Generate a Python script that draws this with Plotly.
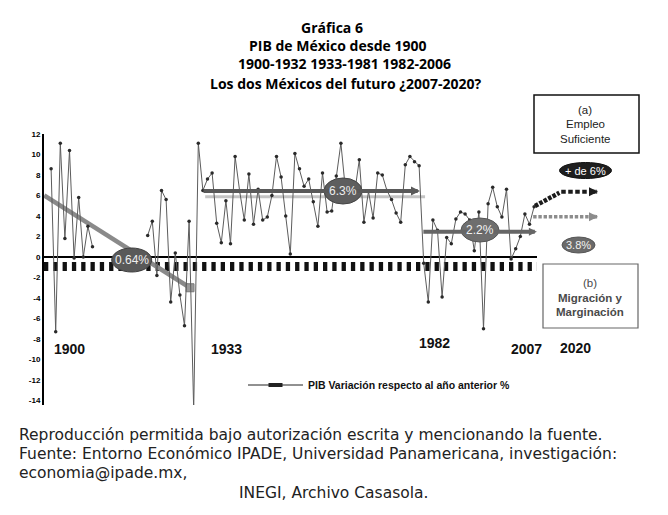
import plotly.graph_objects as go

# ---------------- data ----------------
years_1901_1910 = list(range(1901, 1911))
pib_1901_1910 = [8.6, -7.3, 11.1, 1.8, 10.4, -0.1, 5.8, 0.0, 3.0, 1.0]

years_1922_2006 = list(range(1922, 2007))
pib_1922_2006 = [
    2.1, 3.5, -1.8, 6.5, 5.6, -4.4, 0.4, -3.7, -6.7, 3.5,          # 1922-1931
    -14.9, 11.1, 6.5, 7.6, 8.2, 3.3, 1.4, 5.5, 1.3, 9.8,           # 1932-1941
    6.4, 3.6, 8.1, 3.2, 6.6, 3.6, 3.9, 6.0, 9.8, 7.8,              # 1942-1951
    4.0, 0.3, 10.1, 8.6, 6.9, 7.6, 5.4, 3.0, 8.2, 4.4,             # 1952-1961
    4.5, 7.9, 11.1, 6.5, 6.9, 6.3, 9.5, 3.4, 6.4, 3.8,             # 1962-1971
    8.2, 8.0, 6.5, 5.6, 4.3, 3.4, 9.0, 9.8, 9.3, 8.9,              # 1972-1981
    -0.6, -4.4, 3.6, 2.6, -3.9, 1.9, 1.3, 3.7, 4.4, 4.2,           # 1982-1991
    3.6, 0.6, 4.4, -7.0, 5.2, 6.8, 4.9, 3.9, 6.6, -0.2,            # 1992-2001
    0.8, 2.0, 4.2, 3.2, 4.9,                                       # 2002-2006
]

# period trends
trend_1900_years = [1899.5, 1931.2]
trend_1900_values = [6.0, -3.0]
trend_1933_years = [1933.8, 1981.2]
trend_1933_values = [6.44, 6.44]
trend_1933b_years = [1934.5, 1982.3]
trend_1933b_values = [5.88, 5.88]
trend_1982_years = [1981.6, 2006.6]
trend_1982_values = [2.47, 2.47]

# scenarios 2007-2020
scen_high_years_a = [2006.2, 2011.5]
scen_high_values_a = [4.98, 6.27]
scen_high_years_b = [2011.9, 2019.7]
scen_high_values_b = [6.37, 6.37]
scen_low_years = [2005.8, 2019.7]
scen_low_values = [3.93, 3.93]

trend_labels = ["0.64%", "6.3%", "2.2%", "+ de 6%", "3.8%"]
period_labels = ["1900", "1933", "1982", "2007", "2020"]
ytick_values = list(range(-14, 13, 2))

title_lines = ["Gráfica 6", "PIB de México desde 1900",
               "1900-1932 1933-1981 1982-2006",
               "Los dos Méxicos del futuro ¿2007-2020?"]
footer_lines = ["Reproducción permitida bajo autorización escrita y mencionando la fuente.",
                "Fuente: Entorno Económico IPADE, Universidad Panamericana, investigación:",
                "economia@ipade.mx,",
                "INEGI, Archivo Casasola."]
legend_name = "PIB Variación respecto al año anterior %"

# ---------------- geometry helpers ----------------
W, H = 668, 515
L_PX, R_PX, T_PX, B_PX = 44, 640, 134, 405
PX_PER_YEAR = 4.6
YEAR_REF, YEAR_REF_PX = 1933, 198.3
ZERO_PX, PX_PER_UNIT = 257, 10.25

def dx(px):
    return YEAR_REF + (px - YEAR_REF_PX) / PX_PER_YEAR

def dy(py):
    return (ZERO_PX - py) / PX_PER_UNIT

def pxp(px):
    return (px - L_PX) / (R_PX - L_PX)

def pyp(py):
    return (B_PX - py) / (B_PX - T_PX)

x_range = [dx(L_PX), dx(R_PX)]
y_range = [dy(B_PX), dy(T_PX)]

FONT_TITLE = "Open Sans"
FONT_FOOT = "DejaVu Sans"
FONT_ARIAL = "Liberation Sans"

fig = go.Figure()

# dashed band under zero line
fig.add_trace(go.Scatter(x=[dx(L_PX), dx(537)], y=[-0.93, -0.93], mode="lines",
                         line=dict(color="#111111", width=9, dash="4.3px,5px"),
                         hoverinfo="skip", showlegend=False))
# zero line
fig.add_trace(go.Scatter(x=[dx(L_PX), dx(537)], y=[0, 0], mode="lines",
                         line=dict(color="#000000", width=2),
                         hoverinfo="skip", showlegend=False))

# trend 1900-1932
fig.add_trace(go.Scatter(x=trend_1900_years, y=trend_1900_values, mode="lines",
                         line=dict(color="#8a8a8a", width=4.5),
                         hoverinfo="skip", showlegend=False))
fig.add_trace(go.Scatter(x=trend_1900_years[1:], y=trend_1900_values[1:], mode="markers",
                         marker=dict(symbol="square", size=8, color="#9a9a9a",
                                     line=dict(color="#7a7a7a", width=1)),
                         hoverinfo="skip", showlegend=False))
# light underline of 1933-1981 trend
fig.add_trace(go.Scatter(x=trend_1933b_years, y=trend_1933b_values, mode="lines",
                         line=dict(color="#c4c4c4", width=3),
                         hoverinfo="skip", showlegend=False))

# main series
xs = years_1901_1910 + [None] + years_1922_2006
ys = pib_1901_1910 + [None] + pib_1922_2006
fig.add_trace(go.Scatter(x=xs, y=ys, mode="lines+markers", connectgaps=False,
                         line=dict(color="#5c5c5c", width=1),
                         marker=dict(size=3.5, color="#2a2a2a"),
                         showlegend=False, name=legend_name))

# scenario lines
fig.add_trace(go.Scatter(x=scen_low_years, y=scen_low_values, mode="lines",
                         line=dict(color="#8c8c8c", width=3.5, dash="3.4px,1.8px"),
                         hoverinfo="skip", showlegend=False))
fig.add_trace(go.Scatter(x=scen_high_years_a, y=scen_high_values_a, mode="lines",
                         line=dict(color="#1c1c1c", width=4.5, dash="3.6px,1.4px"),
                         hoverinfo="skip", showlegend=False))
fig.add_trace(go.Scatter(x=scen_high_years_b, y=scen_high_values_b, mode="lines",
                         line=dict(color="#1c1c1c", width=4, dash="4.5px,2.5px"),
                         hoverinfo="skip", showlegend=False))

# legend entry
fig.add_trace(go.Scatter(x=[None], y=[None], mode="lines+markers", name=legend_name,
                         line=dict(color="#222222", width=1),
                         marker=dict(symbol="line-ew", size=10, color="#222222",
                                     line=dict(color="#222222", width=4)),
                         showlegend=True))

shapes = []
annotations = []

def arrow(x_head, x_tail, yv, color, width, size):
    annotations.append(dict(x=x_head, y=yv, ax=x_tail, ay=yv, xref="x", yref="y",
                            axref="x", ayref="y", text="", showarrow=True,
                            arrowhead=2, arrowsize=size, arrowwidth=width,
                            arrowcolor=color, standoff=0, startstandoff=0))

arrow(trend_1933_years[1], trend_1933_years[0], trend_1933_values[0], "#595959", 4, 0.45)
arrow(trend_1982_years[1], trend_1982_years[0], trend_1982_values[0], "#666666", 4, 0.4)
arrow(dx(598), dx(590), scen_high_values_b[1], "#1c1c1c", 4, 0.45)
arrow(dx(598), dx(590), scen_low_values[1], "#8c8c8c", 4, 0.45)

def text_at(px, py, txt, font, xanchor="center"):
    annotations.append(dict(x=pxp(px), y=pyp(py), xref="paper", yref="paper", text=txt,
                            xanchor=xanchor, yanchor="middle", showarrow=False, font=font))

def ellipse(cx, cy, w, h, fill, line, text, tcolor, size):
    shapes.append(dict(type="circle", xref="x", yref="y",
                       x0=dx(cx - w / 2), x1=dx(cx + w / 2),
                       y0=dy(cy + h / 2), y1=dy(cy - h / 2),
                       fillcolor=fill, line=dict(color=line, width=1), layer="above"))
    annotations.append(dict(x=dx(cx), y=dy(cy), xref="x", yref="y", text=text,
                            xanchor="center", yanchor="middle", showarrow=False,
                            font=dict(family=FONT_ARIAL, size=size, color=tcolor)))

ellipse(131.7, 260, 40, 24, "#595959", "#3f3f3f", trend_labels[0], "#eeeeee", 12)
ellipse(343, 191, 38, 26, "#5e5e5e", "#444444", trend_labels[1], "#eeeeee", 12)
ellipse(480, 230, 38, 24, "#6e6e6e", "#555555", trend_labels[2], "#f2f2f2", 12)
ellipse(585.5, 170.5, 52, 16, "#1e1e1e", "#111111", trend_labels[3], "#ffffff", 11)
ellipse(578.5, 245, 33, 16, "#6a6a6a", "#555555", trend_labels[4], "#f2f2f2", 11)

# boxes (a) and (b)
shapes.append(dict(type="rect", xref="paper", yref="paper",
                   x0=pxp(534), x1=pxp(639), y0=pyp(153), y1=pyp(95),
                   line=dict(color="#111111", width=1.5), fillcolor="rgba(0,0,0,0)"))
shapes.append(dict(type="rect", xref="paper", yref="paper",
                   x0=pxp(543), x1=pxp(638), y0=pyp(328), y1=pyp(264),
                   line=dict(color="#666666", width=1.2), fillcolor="rgba(0,0,0,0)"))
box_font_a = dict(family=FONT_ARIAL, size=11.5, color="#222222")
for txt, py in [("(a)", 110), ("Empleo", 124), ("Suficiente", 138.5)]:
    text_at(585, py, txt, box_font_a)
box_font_b = dict(family=FONT_ARIAL, size=11.5, color="#4a4a4a")
for txt, py in [("(b)", 283), ("<b>Migración y</b>", 297.5), ("<b>Marginación</b>", 312)]:
    text_at(590, py, txt, box_font_b)

# period labels
lab_font = dict(family=FONT_ARIAL, size=14, color="#111111")
for txt, cx, cy in zip(period_labels, [69, 226, 434, 526, 575], [349, 349, 343, 349, 348]):
    text_at(cx, cy, "<b>" + txt + "</b>", lab_font)

# title
title_font = dict(family=FONT_TITLE, size=14, color="#000000")
for txt, cx, cy in zip(title_lines, [332, 337, 344, 345], [27, 45, 64, 83]):
    text_at(cx, cy, "<b>" + txt + "</b>", title_font)

# footer
foot_font = dict(family=FONT_FOOT, size=15.5, color="#222222")
for i, (txt, py) in enumerate(zip(footer_lines, [435, 454, 473, 493])):
    text_at(17 if i < 3 else 237, py, txt, foot_font, xanchor="left")

fig.update_layout(
    width=W, height=H, autosize=False,
    margin=dict(l=L_PX, r=W - R_PX, t=T_PX, b=H - B_PX, pad=0),
    paper_bgcolor="white", plot_bgcolor="white",
    xaxis=dict(range=x_range, visible=False, fixedrange=True),
    yaxis=dict(range=y_range, showgrid=False, zeroline=False, showline=True,
               linecolor="#000000", linewidth=2, ticks="", tickvals=ytick_values,
               ticktext=[str(v) for v in ytick_values],
               tickfont=dict(family=FONT_ARIAL, size=8, color="#000000", weight="bold"),
               fixedrange=True),
    showlegend=True,
    legend=dict(x=pxp(243), y=pyp(385), xanchor="left", yanchor="middle",
                itemwidth=55, bgcolor="rgba(0,0,0,0)",
                font=dict(family=FONT_ARIAL, size=10.5, color="#111111", weight="bold")),
    shapes=shapes, annotations=annotations,
)

fig.write_html("out.html", config={"displayModeBar": False},
               post_script="document.body.style.margin='0px';")
